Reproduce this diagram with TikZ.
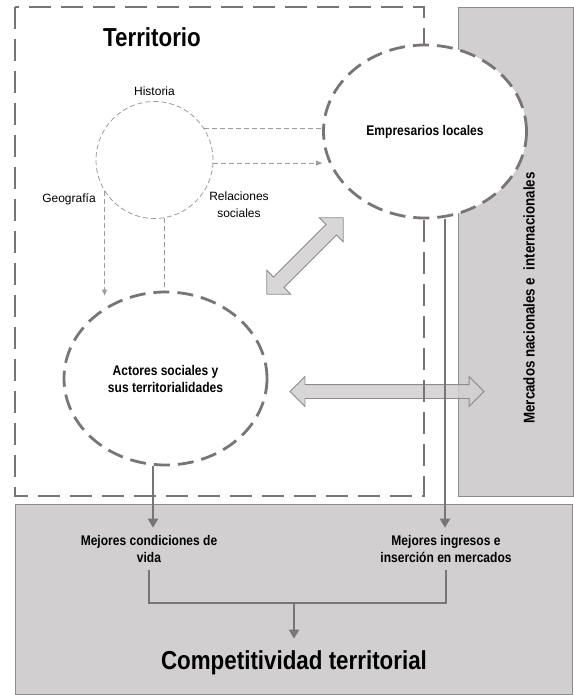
\documentclass[tikz,border=0pt]{standalone}
\usepackage{fontspec}
\setmainfont{Liberation Sans}
\newfontfamily\titlefont{Liberation Sans}[FakeStretch=0.86]
\usetikzlibrary{positioning,shapes.geometric,shapes.arrows,arrows.meta}

\definecolor{linegray}{HTML}{797475}
\definecolor{boxgray}{HTML}{D2CFD0}
\definecolor{edgegray}{HTML}{8C8C8C}
\definecolor{thingray}{HTML}{9B9B9B}

\tikzset{
  regionbox/.style={draw=edgegray, line width=0.8pt, fill=boxgray, inner sep=0pt},
  territ/.style={draw=linegray, line width=2.8pt, dash pattern=on 22pt off 10pt},
  bigell/.style={ellipse, draw=linegray, line width=2.8pt, dash pattern=on 16pt off 8pt,
    fill=white, minimum width=203pt, minimum height=173pt, inner sep=0pt, align=center,
    font=\titlefont\bfseries\fontsize{14}{17}\selectfont},
  smallcirc/.style={circle, draw=thingray, line width=0.8pt, dash pattern=on 5pt off 3pt,
    minimum size=117pt, inner sep=0pt},
  thinlink/.style={draw=thingray, line width=0.8pt, dash pattern=on 5pt off 3pt},
  thinarr/.style={thinlink, -{Triangle[length=6pt,width=5pt]}},
  flow/.style={draw=linegray, line width=2.8pt, -{Triangle[length=9pt,width=10pt]}},
  joint/.style={draw=linegray, line width=2.8pt},
  dblarr/.style={double arrow, draw=edgegray, line width=0.8pt, fill=boxgray, fill opacity=0.85,
    inner xsep=0pt, double arrow tip angle=90},
  lbl/.style={font=\fontsize{12}{17}\selectfont, align=center, inner sep=2pt},
  blbl/.style={font=\titlefont\bfseries\fontsize{14}{17}\selectfont, align=center, inner sep=2pt},
  ttl/.style={font=\titlefont\bfseries\fontsize{26}{30}\selectfont, inner sep=2pt},
}

\begin{document}
\begin{tikzpicture}[x=1pt, y=-1pt]
  \useasboundingbox (0,0) rectangle (573,695);

  % Regions
  \node[regionbox, anchor=north west, minimum width=114.5pt, minimum height=489pt] (mkt) at (458,7) {};
  \node[regionbox, anchor=north west, minimum width=557pt, minimum height=190pt] (comp) at (15,504) {};
  \node[blbl, rotate=90, font=\titlefont\bfseries\fontsize{15.5}{18}\selectfont] (mkttxt) at (529,298) {Mercados nacionales e\ \ internacionales};

  % Exchanges
  \node[dblarr, inner ysep=6.5pt, double arrow head extend=8pt, minimum height=194pt] (hconn) at (387,391.5) {};
  \node[dblarr, inner ysep=7pt, double arrow head extend=9.5pt, minimum height=108pt, rotate=45] (dconn) at (305,256) {};

  % Territory
  \draw[territ] (15,7) rectangle (424,496);
  \node[ttl] (terr) at (152,37) {Territorio};

  \node[smallcirc] (hist) at (154.5,160) {};
  \node[lbl, above=3pt of hist] (histlbl) {Historia};
  \node[lbl] (geo) at (69,199) {Geografía};
  \node[lbl] (rel) at (239,204.5) {Relaciones\\sociales};

  \node[bigell] (emp) at (425,131.5) {Empresarios locales};
  \node[bigell] (act) at (165.5,378.5) {Actores sociales y\\sus territorialidades};

  % Results
  \node[blbl] (cond) at (149,548.5) {Mejores condiciones de\\vida};
  \node[blbl] (ingr) at (446,548.5) {Mejores ingresos e\\inserción en mercados};
  \node[ttl] (compt) at (294,663) {Competitividad territorial};

  % Connect the nodes
  \draw[thinlink] (hist.33) -- (hist.33 -| emp.west);
  \draw[thinarr] (hist.-3) -- (hist.-3 -| emp.west);
  \draw[thinarr] (hist.-148) -- ([yshift=-5pt]hist.-148 |- act.north);
  \draw[thinlink] (hist.-80) -- (hist.-80 |- act.north);

  \draw[flow] ([xshift=-12.5pt]act.south) -- ([xshift=-12.5pt, yshift=5pt]act.south |- cond.north);
  \draw[flow] ([xshift=20pt]emp.south) -- ([xshift=20pt, yshift=5pt]emp.south |- ingr.north);

  % Joining
  \draw[joint] ([yshift=-6pt]cond.south) -- ([yshift=-6pt]cond.south |- 0,597) coordinate (jl)
    -| ([yshift=-6pt]ingr.south);
  \draw[flow] (jl -| compt.north) -- ([yshift=10pt]compt.north);
\end{tikzpicture}
\end{document}
